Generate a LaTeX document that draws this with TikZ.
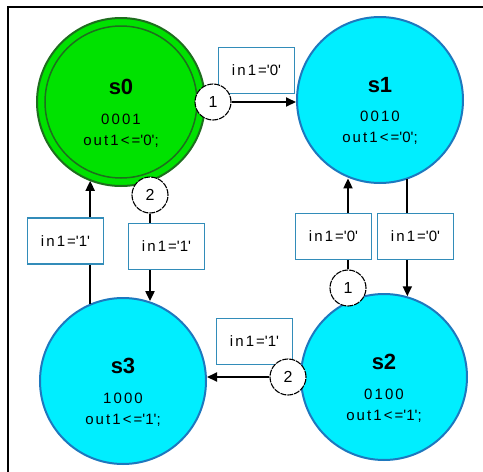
\documentclass[tikz,border=0pt]{standalone}
\usepackage{fontspec}
\setmainfont{Liberation Sans}
\newfontfamily\lblfont{Liberation Sans}[LetterSpace=14]
\usetikzlibrary{arrows.meta}
\definecolor{stategreen}{RGB}{0,226,0}
\definecolor{ringgreen}{RGB}{30,110,30}
\definecolor{statecyan}{RGB}{0,238,255}
\definecolor{stateblue}{RGB}{30,120,190}
\definecolor{boxblue}{RGB}{50,140,185}
\newcommand\tq{\textquotesingle}
\begin{document}
\begin{tikzpicture}[x=1pt,y=-1pt,
  state/.style={circle,draw=stateblue,line width=2pt,fill=statecyan,
    minimum size=166pt,inner sep=0pt},
  initstate/.style={circle,draw=ringgreen,line width=2pt,fill=stategreen,
    minimum size=168pt,inner sep=0pt},
  title/.style={font=\fontsize{22}{26}\selectfont\bfseries,inner sep=0pt},
  detail/.style={font=\lblfont\fontsize{15}{21}\selectfont,align=center,inner sep=0pt},
  cond/.style={draw=boxblue,line width=1.3pt,fill=white,minimum width=76pt,
    minimum height=46pt,inner sep=0pt,font=\lblfont\fontsize{15}{17}\selectfont},
  prio/.style={circle,draw=black,line width=1.1pt,fill=white,minimum size=36pt,
    inner sep=0pt,font=\fontsize{16}{18}\selectfont,
    dash pattern=on 6pt off 1pt},
  link/.style={line width=2pt},
  arr/.style={link,-{Triangle[length=10pt,width=9pt]}}]
\useasboundingbox (0,0) rectangle (483,472);
% outer frame
\draw[line width=2.5pt] (8,472) -- (8,7) -- (483,7);

% states
\node[initstate] (s0) at (121,102) {};
\draw[ringgreen,line width=1.5pt] (s0.center) circle[radius=76];
\node[title] (s0t) at (121,87) {s0};
\node[detail] (s0d) at (121,131) {0001\\out1<=\tq0\tq;};

\node[state] (s1) at (380,100) {};
\node[title] (s1t) at (380,85) {s1};
\node[detail] (s1d) at (380,128) {0010\\out1<=\tq0\tq;};

\node[state] (s2) at (384,377) {};
\node[title] (s2t) at (384,362) {s2};
\node[detail] (s2d) at (384,406) {0100\\out1<=\tq1\tq;};

\node[state] (s3) at (123,381) {};
\node[title] (s3t) at (123,366) {s3};
\node[detail] (s3d) at (123,410) {1000\\out1<=\tq1\tq;};

% transition conditions
\node[cond] (b01) at (256.5,70.5) {in1=\tq0\tq};
\node[cond] (b03) at (166.5,246.5) {in1=\tq1\tq};
\node[cond] (b30) at (65.5,241) {in1=\tq1\tq};
\node[cond] (b21) at (333.5,236.5) {in1=\tq0\tq};
\node[cond] (b12) at (415.5,236.5) {in1=\tq0\tq};
\node[cond] (b23) at (254.5,341.5) {in1=\tq1\tq};

% transition priorities
\node[prio] (p1) at (213,102) {1};
\node[prio] (p2) at (150,195) {2};
\node[prio] (q1) at (348,288) {1};
\node[prio] (q2) at (288,377) {2};

% transitions
\draw[arr] (p1.east) -- (p1.east -| s1.west);

\draw[link] (p2.south) -- (p2.south |- b03.north);
\draw[arr] (p2.south |- b03.south) -- (p2.south |- s3.72);

\draw[link] (s3.113) -- (s3.113 |- b30.south);
\draw[arr] (s3.113 |- b30.north) -- (s3.113 |- s0.248);

\draw[link] (s1.289) -- (s1.289 |- b12.north);
\draw[arr] (s1.289 |- b12.south) -- (s1.289 |- s2.74);

\draw[link] (q1.north) -- (q1.north |- b21.south);
\draw[arr] (q1.north |- b21.north) -- (q1.north |- s1.249);

\draw[arr] (q2.west) -- (q2.west -| s3.east);
\end{tikzpicture}
\end{document}
